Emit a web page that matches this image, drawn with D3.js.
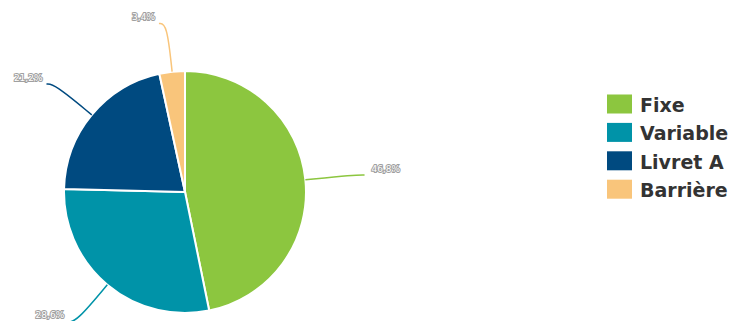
<!DOCTYPE html>
<html>
<head>
<meta charset="utf-8">
<script src="https://cdn.jsdelivr.net/npm/d3@7"></script>
<style>
    body { margin: 0; background: #fff; }
    svg { display: block; }
</style>
</head>
<body>
<svg id="chart" width="731" height="321"></svg>
<script>
const categories = ['Fixe', 'Variable', 'Livret A', 'Barrière'];
const values = [46.8, 28.6, 21.2, 3.4];
const labels = ['46,8%', '28,6%', '21,2%', '3,4%'];
const colors = ['#8cc63f', '#0093a8', '#004a80', '#f9c57b'];

const svg = d3.select('#chart');
const cx = 185, cy = 192, radius = 121;

const data = categories.map((c, i) => ({ name: c, value: values[i], label: labels[i], color: colors[i] }));

const pie = d3.pie().sort(null).value(d => d.value);
const arcs = pie(data);

const arc = d3.arc().innerRadius(0).outerRadius(radius);
const edgeArc = d3.arc().innerRadius(radius).outerRadius(radius);
const outerArc = d3.arc().innerRadius(radius * 1.4).outerRadius(radius * 1.4);

const g = svg.append('g').attr('transform', `translate(${cx},${cy})`);

g.selectAll('path.slice')
    .data(arcs)
    .join('path')
    .attr('class', 'slice')
    .attr('d', arc)
    .attr('fill', d => d.data.color)
    .attr('stroke', '#fff')
    .attr('stroke-width', 2);

// leader lines: radial out, then a short horizontal hook
const midAngle = d => (d.startAngle + d.endAngle) / 2;
const side = d => (midAngle(d) < Math.PI ? 1 : -1);
const hook = d => (side(d) > 0 ? 11 : 8);
const gap = d => (side(d) > 0 ? 18 : 12);

const line = d3.line().curve(d3.curveBasis);

g.selectAll('path.leader')
    .data(arcs)
    .join('path')
    .attr('class', 'leader')
    .attr('fill', 'none')
    .attr('stroke', d => d.data.color)
    .attr('stroke-width', 1.5)
    .attr('d', d => {
        const a = edgeArc.centroid(d);
        const b = outerArc.centroid(d);
        const c = [b[0] + side(d) * hook(d), b[1]];
        return line([a, a, b, c, c]);
    });

g.selectAll('text.lbl')
    .data(arcs)
    .join('text')
    .attr('class', 'lbl')
    .attr('x', d => outerArc.centroid(d)[0] + side(d) * gap(d))
    .attr('y', d => outerArc.centroid(d)[1] - 6)
    .attr('dominant-baseline', 'middle')
    .attr('text-anchor', d => (side(d) > 0 ? 'start' : 'end'))
    .attr('font-family', 'DejaVu Sans, sans-serif')
    .attr('font-size', '9px')
    .attr('fill', '#fff')
    .attr('stroke', '#a0a0a0')
    .attr('stroke-width', 2)
    .attr('paint-order', 'stroke')
    .text(d => d.data.label);

// legend
const legend = svg.append('g').attr('transform', 'translate(607,94.5)');
const rowH = 28.4;
const items = legend.selectAll('g')
    .data(data)
    .join('g')
    .attr('transform', (d, i) => `translate(0,${i * rowH})`);

items.append('rect')
    .attr('width', 25)
    .attr('height', 19)
    .attr('fill', d => d.color);

items.append('text')
    .attr('x', 33)
    .attr('y', 10.5)
    .attr('dominant-baseline', 'central')
    .attr('font-family', 'DejaVu Sans, sans-serif')
    .attr('font-weight', 'bold')
    .attr('font-size', '19px')
    .attr('fill', '#333')
    .text(d => d.name);
</script>
</body>
</html>
